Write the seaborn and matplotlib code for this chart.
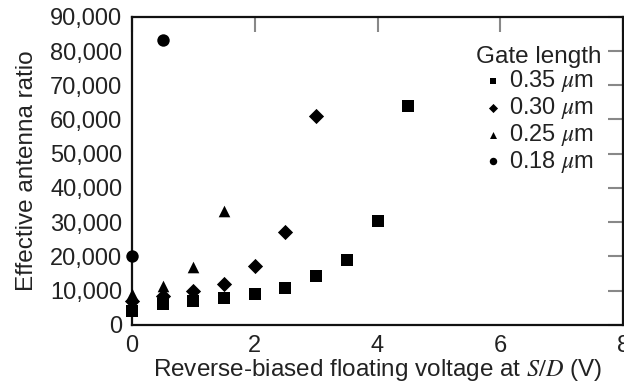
import matplotlib
matplotlib.use("Agg")
import matplotlib.pyplot as plt
import seaborn as sns
import pandas as pd
from matplotlib.ticker import FuncFormatter, MultipleLocator

# ---- data ----
x_035 = [0.0, 0.5, 1.0, 1.5, 2.0, 2.5, 3.0, 3.5, 4.0, 4.5]
y_035 = [4000, 6000, 7000, 7800, 9000, 10800, 14300, 19000, 30200, 64000]
x_030 = [0.0, 0.5, 1.0, 1.5, 2.0, 2.5, 3.0]
y_030 = [7000, 8300, 10000, 12000, 17200, 27000, 61000]
x_025 = [0.0, 0.5, 1.0, 1.5]
y_025 = [9000, 11300, 17000, 33200]
x_018 = [0.0, 0.5]
y_018 = [20000, 83200]
series_labels = ["0.35 $\\mu$m", "0.30 $\\mu$m", "0.25 $\\mu$m", "0.18 $\\mu$m"]
legend_title = "Gate length"
x_label = "Reverse-biased floating voltage at $S/D$ (V)"
y_label = "Effective antenna ratio"

rows = []
for lab, xs, ys in zip(series_labels, [x_035, x_030, x_025, x_018], [y_035, y_030, y_025, y_018]):
    for a, b in zip(xs, ys):
        rows.append({"V": a, "ratio": b, "gate": lab})
df = pd.DataFrame(rows)

sns.set_theme(style="white")
plt.rcParams["font.family"] = ["Liberation Sans", "DejaVu Sans"]
plt.rcParams["mathtext.fontset"] = "stix"

fig = plt.figure(figsize=(6.24, 3.90), dpi=100)
ax = fig.add_axes([0.2115, 0.167, 0.787, 0.79])

markers = {series_labels[0]: "s", series_labels[1]: "D", series_labels[2]: "^", series_labels[3]: "o"}
sizes_map = {series_labels[0]: 70, series_labels[1]: 60, series_labels[2]: 70, series_labels[3]: 80}
for lab in series_labels:
    sub = df[df["gate"] == lab]
    sns.scatterplot(data=sub, x="V", y="ratio", marker=markers[lab], color="black",
                    s=sizes_map[lab], edgecolor="black", linewidth=0, ax=ax, label=lab,
                    clip_on=False, zorder=5)

ax.set_xlim(0, 8)
ax.set_ylim(0, 90000)
ax.xaxis.set_major_locator(MultipleLocator(2))
ax.yaxis.set_major_locator(MultipleLocator(10000))
ax.yaxis.set_major_formatter(FuncFormatter(lambda v, p: f"{int(v):,}"))

fs = 17.5
ax.tick_params(direction="in", length=11, width=1.5, color="#888888",
               labelsize=17, labelcolor="#222222", top=True, right=True,
               pad=7)
for sp in ax.spines.values():
    sp.set_color("#111111")
    sp.set_linewidth(1.6)

ax.set_xlabel(x_label, fontsize=fs, color="#222222", labelpad=0)
ax.set_ylabel(y_label, fontsize=fs, color="#222222", labelpad=9)

leg = ax.legend(title=legend_title, frameon=False, fontsize=17, title_fontsize=fs,
                loc="upper right", bbox_to_anchor=(0.985, 0.952), markerscale=0.6,
                handletextpad=0.3, labelspacing=0.03, borderaxespad=0.2,
                handlelength=0.8)
for t in leg.get_texts():
    t.set_color("#222222")
leg.get_title().set_color("#222222")

fig.savefig("out.png", dpi=100)
